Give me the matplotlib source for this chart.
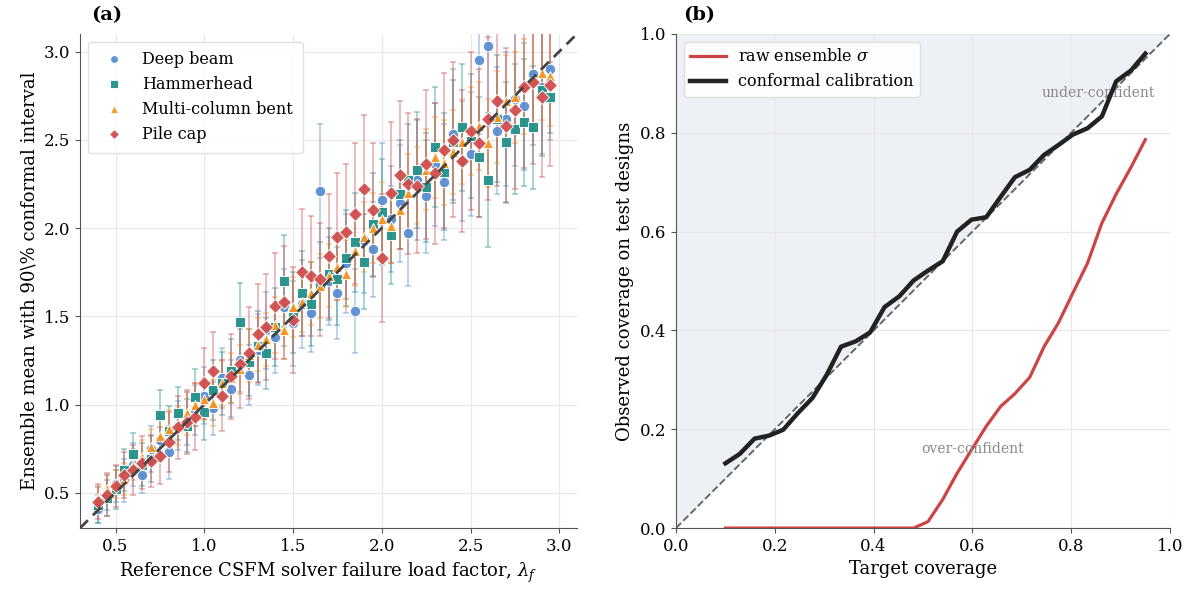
import numpy as np
import matplotlib
matplotlib.use("Agg")
import matplotlib.pyplot as plt

plt.rcParams["font.family"] = "DejaVu Serif"
plt.rcParams["mathtext.fontset"] = "dejavuserif"

# ── Panel (a) data: reference load factor grid and per-family predictions ──
lam_grid = [0.40, 0.45, 0.50, 0.55, 0.60, 0.65, 0.70, 0.75, 0.80, 0.85,
            0.90, 0.95, 1.00, 1.05, 1.10, 1.15, 1.20, 1.25, 1.30, 1.35,
            1.40, 1.45, 1.50, 1.55, 1.60, 1.65, 1.70, 1.75, 1.80, 1.85,
            1.90, 1.95, 2.00, 2.05, 2.10, 2.15, 2.20, 2.25, 2.30, 2.35,
            2.40, 2.45, 2.50, 2.55, 2.60, 2.65, 2.70, 2.75, 2.80, 2.85,
            2.90, 2.95]

deep_mean = [0.41, 0.50, 0.55, 0.57, 0.66, 0.60, 0.75, 0.80, 0.73, 0.88,
             0.92, 0.97, 1.05, 0.98, 1.15, 1.09, 1.25, 1.17, 1.31, 1.42,
             1.38, 1.55, 1.46, 1.57, 1.52, 2.21, 1.70, 1.63, 1.80, 1.53,
             1.93, 1.88, 2.16, 2.05, 2.14, 1.97, 2.27, 2.18, 2.36, 2.26,
             2.53, 2.38, 2.42, 2.95, 3.03, 2.55, 2.62, 2.73, 2.69, 2.87,
             2.80, 2.90]
deep_q = [0.08, 0.10, 0.10, 0.12, 0.12, 0.10, 0.13, 0.12, 0.15, 0.14,
          0.15, 0.14, 0.16, 0.15, 0.17, 0.16, 0.18, 0.17, 0.20, 0.22,
          0.20, 0.22, 0.24, 0.25, 0.22, 0.38, 0.25, 0.26, 0.28, 0.24,
          0.30, 0.27, 0.32, 0.30, 0.33, 0.30, 0.34, 0.32, 0.35, 0.33,
          0.37, 0.34, 0.35, 0.42, 0.45, 0.36, 0.38, 0.38, 0.36, 0.40,
          0.38, 0.40]

ham_mean = [0.43, 0.47, 0.52, 0.63, 0.72, 0.66, 0.69, 0.94, 0.85, 0.95,
            0.88, 1.04, 0.96, 1.08, 1.12, 1.19, 1.47, 1.24, 1.33, 1.29,
            1.44, 1.70, 1.52, 1.63, 1.57, 1.67, 1.74, 1.71, 1.83, 1.92,
            1.81, 2.02, 2.09, 1.96, 2.19, 2.27, 2.33, 2.23, 2.46, 2.32,
            2.49, 2.57, 2.52, 2.40, 2.27, 2.62, 2.49, 2.56, 2.60, 2.57,
            2.78, 2.74]
ham_q = [0.10, 0.10, 0.11, 0.12, 0.12, 0.12, 0.13, 0.14, 0.14, 0.15,
         0.15, 0.16, 0.16, 0.17, 0.18, 0.18, 0.22, 0.19, 0.20, 0.20,
         0.22, 0.26, 0.23, 0.24, 0.24, 0.25, 0.26, 0.26, 0.27, 0.28,
         0.27, 0.29, 0.30, 0.28, 0.31, 0.32, 0.33, 0.31, 0.34, 0.33,
         0.35, 0.36, 0.35, 0.34, 0.38, 0.36, 0.34, 0.37, 0.36, 0.35,
         0.37, 0.20]

mcb_mean = [0.47, 0.52, 0.55, 0.58, 0.66, 0.70, 0.76, 0.82, 0.86, 0.88,
            0.95, 1.00, 1.03, 1.01, 1.12, 1.15, 1.20, 1.28, 1.34, 1.37,
            1.45, 1.42, 1.55, 1.58, 1.63, 1.67, 1.73, 1.78, 1.74, 1.87,
            1.95, 2.00, 2.05, 2.01, 2.10, 2.20, 2.24, 2.33, 2.40, 2.37,
            2.43, 2.49, 2.55, 2.58, 2.48, 2.63, 2.72, 2.74, 2.80, 2.84,
            2.88, 2.86]
mcb_q = [0.07, 0.08, 0.08, 0.09, 0.09, 0.10, 0.10, 0.10, 0.11, 0.11,
         0.12, 0.12, 0.12, 0.13, 0.13, 0.14, 0.14, 0.15, 0.15, 0.15,
         0.16, 0.16, 0.17, 0.17, 0.18, 0.18, 0.18, 0.19, 0.19, 0.20,
         0.20, 0.20, 0.21, 0.21, 0.22, 0.22, 0.22, 0.23, 0.23, 0.24,
         0.24, 0.24, 0.25, 0.25, 0.25, 0.26, 0.26, 0.26, 0.27, 0.27,
         0.27, 0.28]

pile_mean = [0.45, 0.49, 0.54, 0.60, 0.63, 0.67, 0.68, 0.71, 0.79, 0.87,
             0.90, 0.93, 1.12, 1.19, 1.05, 1.16, 1.23, 1.29, 1.40, 1.44,
             1.56, 1.58, 1.48, 1.75, 1.73, 1.71, 1.84, 1.95, 1.98, 2.08,
             2.22, 2.10, 1.83, 2.20, 2.30, 2.25, 2.24, 2.36, 2.31, 2.44,
             2.50, 2.38, 2.55, 2.48, 2.62, 2.72, 2.58, 2.67, 2.80, 2.83,
             2.74, 2.81]
pile_q = [0.10, 0.12, 0.12, 0.13, 0.14, 0.15, 0.15, 0.16, 0.17, 0.18,
          0.18, 0.19, 0.20, 0.22, 0.20, 0.24, 0.25, 0.26, 0.28, 0.30,
          0.30, 0.32, 0.30, 0.36, 0.34, 0.32, 0.35, 0.36, 0.38, 0.40,
          0.42, 0.38, 0.36, 0.40, 0.42, 0.40, 0.38, 0.42, 0.40, 0.44,
          0.44, 0.40, 0.45, 0.42, 0.46, 0.48, 0.44, 0.45, 0.46, 0.47,
          0.45, 0.46]

families = ["Deep beam", "Hammerhead", "Multi-column bent", "Pile cap"]

# ── Panel (b) data: coverage curves ──
target_cov = [0.100, 0.129, 0.159, 0.188, 0.217, 0.247, 0.276, 0.305,
              0.334, 0.364, 0.393, 0.422, 0.452, 0.481, 0.510, 0.540,
              0.569, 0.598, 0.628, 0.657, 0.686, 0.716, 0.745, 0.774,
              0.803, 0.833, 0.862, 0.891, 0.921, 0.950]
raw_cov = [0.0, 0.0, 0.0, 0.0, 0.0, 0.0, 0.0, 0.0, 0.0, 0.0,
           0.0, 0.0, 0.0, 0.0, 0.013, 0.058, 0.111, 0.158, 0.206, 0.246,
           0.272, 0.305, 0.367, 0.415, 0.475, 0.536, 0.617, 0.676, 0.730,
           0.786]
conf_cov = [0.131, 0.150, 0.181, 0.187, 0.199, 0.233, 0.263, 0.310,
            0.367, 0.378, 0.396, 0.447, 0.469, 0.501, 0.521, 0.540,
            0.600, 0.624, 0.629, 0.670, 0.710, 0.725, 0.755, 0.775,
            0.796, 0.809, 0.833, 0.904, 0.926, 0.960]

# ── Styling ──
COLORS = ["#5b8ed1", "#23918b", "#f7951d", "#d14e4e"]
MARKERS = ["o", "s", "^", "D"]
SIZES = [7.5, 7.5, 7.5, 7.0]

fig = plt.figure(figsize=(11.91, 5.94), dpi=100)
ax1 = fig.add_axes([0.0672, 0.111, 0.4173, 0.832])
ax2 = fig.add_axes([0.5676, 0.111, 0.4148, 0.832])

means = [deep_mean, ham_mean, mcb_mean, pile_mean]
qs = [deep_q, ham_q, mcb_q, pile_q]

lims = (0.3, 3.1)
ax1.plot(lims, lims, ls=(0, (4, 2.5)), color="#444444", lw=2, zorder=5)

for name, m, q, c, mk, ms in zip(families, means, qs, COLORS, MARKERS, SIZES):
    ax1.errorbar(lam_grid, m, yerr=q, fmt="none", ecolor=c, elinewidth=1.2,
                 capsize=2.5, capthick=1.2, alpha=0.45, zorder=2)
    ax1.plot(lam_grid, m, ls="none", marker=mk, ms=ms, color=c,
             mec="white", mew=0.7, alpha=0.95, label=name, zorder=3)

ax1.set_xlim(*lims)
ax1.set_ylim(*lims)
ax1.set_xticks([0.5, 1.0, 1.5, 2.0, 2.5, 3.0])
ax1.set_yticks([0.5, 1.0, 1.5, 2.0, 2.5, 3.0])
ax1.grid(True, color="#e8e8e8", lw=0.9)
ax1.set_axisbelow(True)
ax1.set_xlabel(r"Reference CSFM solver failure load factor, $\lambda_f$", fontsize=13)
ax1.set_ylabel(r"Ensemble mean with 90\% conformal interval", fontsize=13)
ax1.legend(loc="upper left", fontsize=11.5, frameon=True, framealpha=0.9,
           edgecolor="#dddddd", handletextpad=0.8, borderpad=0.6,
           markerscale=0.75)

# ── Panel (b) ──
diag = [0.0, 1.0]
ax2.fill_between(diag, diag, [1.0, 1.0], color="#edf1f5", zorder=0, lw=0)
ax2.plot(diag, diag, ls="--", color="#666666", lw=1.4, zorder=2)
ax2.plot(target_cov, raw_cov, color="#cc4444", lw=2.3, label=r"raw ensemble $\sigma$", zorder=3)
ax2.plot(target_cov, conf_cov, color="#222222", lw=3.2, label="conformal calibration", zorder=4)
ax2.text(0.855, 0.88, "under-confident", color="#888888", fontsize=10,
         ha="center", va="center")
ax2.text(0.6, 0.16, "over-confident", color="#888888", fontsize=10,
         ha="center", va="center")
ax2.set_xlim(0, 1)
ax2.set_ylim(0, 1)
ax2.set_xticks(np.linspace(0, 1, 6))
ax2.set_yticks(np.linspace(0, 1, 6))
ax2.grid(True, color="#e8e8e8", lw=0.9)
ax2.set_axisbelow(True)
ax2.set_xlabel("Target coverage", fontsize=13)
ax2.set_ylabel("Observed coverage on test designs", fontsize=13)
ax2.legend(loc="upper left", fontsize=11.5, frameon=True, framealpha=0.9,
           edgecolor="#dddddd", handlelength=2.2)

for ax in (ax1, ax2):
    ax.spines[["top", "right"]].set_visible(False)
    for s in ("left", "bottom"):
        ax.spines[s].set_color("#555555")
    ax.tick_params(labelsize=12, color="#555555")

fig.text(91 / 1191, 1 - 15 / 594, "(a)", fontsize=14, fontweight="bold", va="center")
fig.text(683 / 1191, 1 - 15 / 594, "(b)", fontsize=14, fontweight="bold", va="center")

fig.savefig("out.png", dpi=100)
